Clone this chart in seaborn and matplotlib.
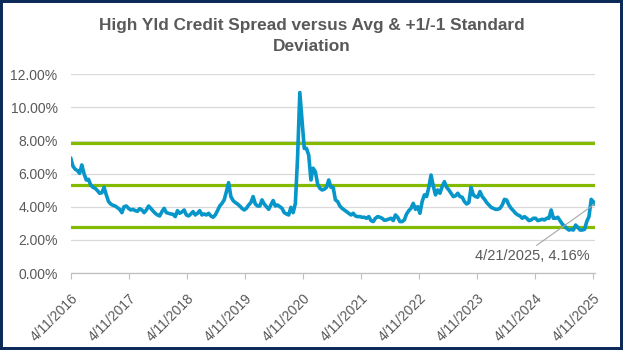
import matplotlib
matplotlib.use("Agg")
import matplotlib.pyplot as plt
from matplotlib.patches import Rectangle
from matplotlib.ticker import FuncFormatter
import pandas as pd
import seaborn as sns

# High-yield option-adjusted spread (%), sampled every two weeks from 4/11/2016,
# plus the latest reading on 4/21/2025.
start_date = "2016-04-11"
last_date = "2025-04-21"
spread_pct = [
    # 2016-04 .. 2017-04
    6.95, 6.46, 6.27, 6.19, 6.02, 6.53, 6.00, 5.62, 5.66, 5.32, 5.18, 5.12, 4.98,
    4.82, 4.85, 5.18, 4.72, 4.32, 4.17, 4.09, 4.05, 3.95, 3.85, 3.65, 4.01, 4.05,
    # 2017-04 .. 2018-04
    3.91, 3.81, 3.85, 3.77, 3.73, 3.89, 3.81, 3.65, 3.81, 4.05, 3.91, 3.75, 3.61,
    3.51, 3.45, 3.71, 3.91, 3.65, 3.61, 3.57, 3.55, 3.41, 3.77, 3.61, 3.69, 3.81,
    # 2018-04 .. 2019-04
    3.51, 3.45, 3.57, 3.71, 3.51, 3.61, 3.77, 3.51, 3.57, 3.51, 3.61, 3.45, 3.37,
    3.51, 3.77, 4.05, 4.21, 4.42, 4.92, 5.46, 4.62, 4.38, 4.26, 4.17, 4.05, 3.91,
    # 2019-04 .. 2020-04
    3.81, 3.91, 4.11, 4.26, 4.62, 4.17, 4.05, 4.05, 4.42, 4.17, 4.01, 3.85, 4.11,
    4.38, 4.05, 4.11, 4.01, 3.91, 3.65, 3.57, 3.51, 3.97, 3.65, 4.20, 7.00, 10.90,
    # 2020-04 .. 2021-04
    9.20, 7.53, 7.53, 7.12, 5.62, 6.33, 6.12, 5.38, 5.12, 5.02, 5.06, 5.18, 5.62,
    5.18, 5.18, 4.42, 4.32, 4.05, 3.91, 3.81, 3.71, 3.61, 3.51, 3.61, 3.45, 3.41,
    # 2021-04 .. 2022-04
    3.41, 3.37, 3.37, 3.31, 3.41, 3.17, 3.11, 3.31, 3.41, 3.37, 3.31, 3.19, 3.21,
    3.26, 3.31, 3.17, 3.51, 3.37, 3.11, 3.11, 3.21, 3.57, 3.77, 3.91, 4.21, 3.85,
    # 2022-04 .. 2023-04
    4.01, 3.61, 4.32, 4.72, 4.62, 5.18, 5.92, 5.26, 4.72, 5.02, 4.82, 5.22, 5.52,
    5.18, 5.02, 4.82, 4.62, 4.66, 4.82, 4.62, 4.58, 4.32, 4.17, 4.26, 5.18, 4.72,
    # 2023-04 .. 2024-04
    4.62, 4.58, 4.92, 4.62, 4.46, 4.26, 4.11, 3.97, 3.91, 3.85, 3.85, 3.91, 4.11,
    4.45, 4.41, 4.11, 3.91, 3.77, 3.61, 3.51, 3.45, 3.31, 3.41, 3.31, 3.17, 3.21,
    # 2024-04 .. 2025-04
    3.31, 3.31, 3.17, 3.21, 3.25, 3.21, 3.31, 3.31, 3.81, 3.31, 3.31, 3.37, 3.17,
    2.96, 2.84, 2.70, 2.60, 2.64, 2.60, 2.90, 2.76, 2.60, 2.60, 2.64, 3.11, 3.41,
    4.45, 4.30,
    # latest
    4.16,
]

# Long-run average and one standard deviation either side
long_run_avg = 5.32
long_run_std = 2.56

title_text = "High Yld Credit Spread versus Avg & +1/-1 Standard\nDeviation"
y_ticks = [0, 2, 4, 6, 8, 10, 12]

BLUE = "#0796c9"
GREEN = "#84bb00"
GRID = "#d9d9d9"
TEXT = "#595959"
NAVY = "#0b2a58"

dates = pd.date_range(start_date, periods=len(spread_pct) - 1, freq="14D").append(
    pd.DatetimeIndex([last_date]))
df = pd.DataFrame({"date": dates, "spread": spread_pct})
tick_dates = pd.date_range(start_date, "2025-04-11", freq=pd.DateOffset(years=1))

sns.set_theme(style="white")
plt.rcParams["font.family"] = ["Liberation Sans", "DejaVu Sans"]

fig = plt.figure(figsize=(6.23, 3.5), dpi=100)
ax = fig.add_axes([0.1135, 0.2197, 0.8408, 0.568])

# Average and +/- one standard deviation bands
for level in (long_run_avg + long_run_std, long_run_avg, long_run_avg - long_run_std):
    ax.axhline(level, color=GREEN, lw=2.3, zorder=2)

sns.lineplot(data=df, x="date", y="spread", ax=ax, color=BLUE, lw=2.6,
             zorder=3, legend=False)

ax.set_ylim(y_ticks[0], y_ticks[-1])
ax.set_yticks(y_ticks)
ax.yaxis.set_major_formatter(FuncFormatter(lambda v, _: f"{v:.2f}%"))
ax.set_xlim(pd.Timestamp(start_date), pd.Timestamp(last_date))
ax.set_xticks(tick_dates)
ax.set_xticklabels([f"{d.month}/{d.day}/{d.year}" for d in tick_dates],
                   rotation=45, ha="right", va="top", rotation_mode="anchor")
ax.set_xlabel("")
ax.set_ylabel("")

ax.yaxis.grid(True, color=GRID, lw=0.9, zorder=0)
ax.xaxis.grid(False)
for side in ("left", "right", "top"):
    ax.spines[side].set_visible(False)
ax.spines["bottom"].set_color("#bfbfbf")
ax.spines["bottom"].set_linewidth(0.9)
ax.tick_params(axis="y", length=0, pad=9.5, labelsize=10, labelcolor=TEXT)
ax.tick_params(axis="x", length=4, width=0.8, color="#bfbfbf", direction="out",
               pad=9, labelsize=10, labelcolor=TEXT, bottom=True)

# Label the latest reading
last_x = df["date"].iloc[-1]
last_y = df["spread"].iloc[-1]
ax.annotate(f"{last_x.month}/{last_x.day}/{last_x.year}, {last_y:.2f}%",
            xy=(last_x, last_y), xytext=(-45, -32), textcoords="offset points",
            ha="center", va="top", fontsize=10.5, color=TEXT,
            arrowprops=dict(arrowstyle="-", color="#a6a6a6", lw=0.8,
                            shrinkA=0, shrinkB=0, relpos=(0.5, 1.0)),
            zorder=5, annotation_clip=False)

fig.text(0.5, 1 - 36 / 350, title_text, ha="center", va="center",
         fontsize=12.4, fontweight="bold", color=TEXT, linespacing=1.5)

fig.patches.append(Rectangle((0, 0), 1, 1, transform=fig.transFigure, fill=False,
                             edgecolor=NAVY, lw=4.3, zorder=10))

fig.savefig("out.png", dpi=100, facecolor="white")
